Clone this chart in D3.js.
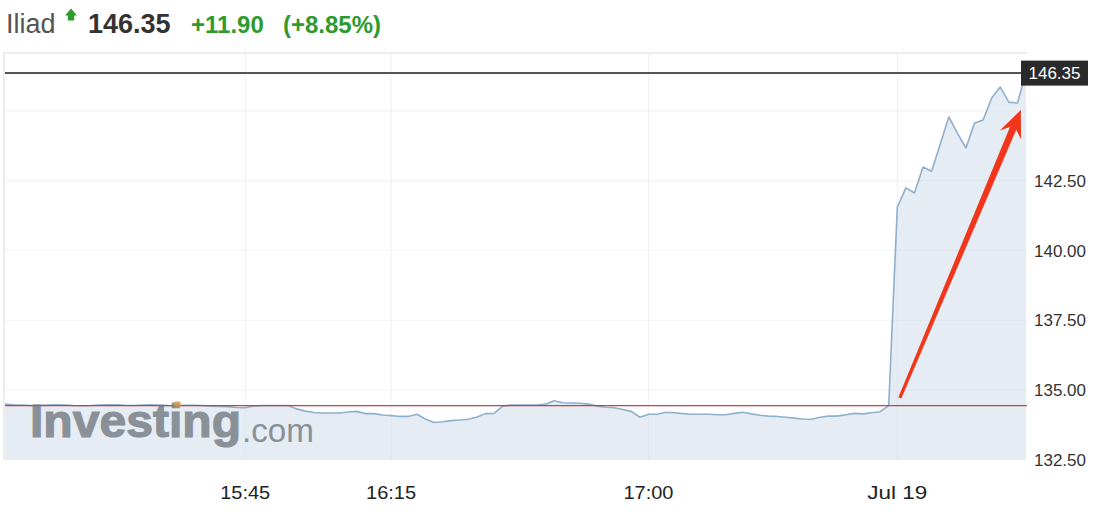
<!DOCTYPE html>
<html><head><meta charset="utf-8">
<script src="https://cdn.jsdelivr.net/npm/d3@7"></script>
<style>
body{margin:0;background:#fff}
svg{display:block}
text{font-family:"Liberation Sans",Arial,Helvetica,sans-serif}
</style>
</head><body>
<svg id="c" width="1120" height="528"></svg>
<script>
// ---- data ----
const symbol = "Iliad";
const lastPrice = 146.35;
const change = 11.90;
const changePct = 8.85;
const prices = [
  134.50,134.48,134.47,134.45,134.46,134.47,134.48,134.47,134.45,134.44,
  134.45,134.47,134.48,134.48,134.46,134.45,134.47,134.48,134.47,134.45,
  134.44,134.46,134.46,134.45,134.43,134.42,134.41,
  134.38,134.37,134.43,134.45,134.45,134.45,134.45,134.33,134.25,134.20,
  134.18,134.18,134.18,134.22,134.24,134.16,134.16,134.11,134.09,134.06,
  134.06,134.14,133.97,133.84,133.87,133.91,133.93,133.96,134.04,134.16,
  134.17,134.43,134.47,134.47,134.47,134.47,134.50,134.62,134.55,134.54,
  134.53,134.50,134.43,134.39,134.37,134.31,134.24,134.03,134.14,134.14,
  134.21,134.19,134.16,134.14,134.14,134.14,134.12,134.12,134.17,134.21,
  134.15,134.10,134.07,134.06,134.03,134.00,133.97,133.96,134.03,134.07,
  134.07,134.12,134.17,134.15,134.19,134.23,134.45,
  141.55,142.24,142.06,142.99,142.84,143.80,144.78,144.20,143.67,144.56,
  144.67,145.46,145.85,145.31,145.28,146.35
];
const xTickIndex = [28, 45, 75, 104];
const xTickLabels = ["15:45", "16:15", "17:00", "Jul 19"];
const yTickValues = [132.5, 135, 137.5, 140, 142.5];
const yGridValues = [135, 137.5, 140, 142.5, 145];
const yDomain = [132.5, 147.07];
const prevClose = +(lastPrice - change).toFixed(2);
const arrowFrom = {i: 104.3, v: 134.72};
const arrowTo = {i: 118.4, v: 145.03};

// ---- layout ----
const svg = d3.select("#c");
const L = 5, R = 1026, T = 53, B = 460;
const x = d3.scaleLinear().domain([0, prices.length - 1]).range([L, R]);
const y = d3.scaleLinear().domain(yDomain).range([B, T]);

svg.append("rect").attr("width",1120).attr("height",528).attr("fill","#fff");

// frame
svg.append("path")
  .attr("d", `M${L-1},${B}V${T}H${R+1}`)
  .attr("fill","none").attr("stroke","#e8e8e8").attr("stroke-width",1.5);

// area fill
const area = d3.area().x((d,i)=>x(i)).y0(B).y1(d=>y(d));
svg.append("path").datum(prices).attr("d", area).attr("fill","#e5ecf4");

// grid
svg.append("g").selectAll("line").data(yGridValues).join("line")
  .attr("x1",L).attr("x2",R+1).attr("y1",d=>y(d)).attr("y2",d=>y(d))
  .attr("stroke","#d9dde3").attr("stroke-opacity",0.35);
svg.append("g").selectAll("line").data(xTickIndex).join("line")
  .attr("x1",d=>x(d)).attr("x2",d=>x(d)).attr("y1",T).attr("y2",B)
  .attr("stroke","#d9dde3").attr("stroke-opacity",0.4);

// price line
const line = d3.line().x((d,i)=>x(i)).y(d=>y(d));
svg.append("path").datum(prices).attr("d", line)
  .attr("fill","none").attr("stroke","#8fb0cd").attr("stroke-width",1.6)
  .attr("stroke-linejoin","round");

// previous close line
svg.append("line").attr("x1",L).attr("x2",R+1)
  .attr("y1",y(prevClose)).attr("y2",y(prevClose))
  .attr("stroke","#cf3d3d").attr("stroke-width",1.3);

// watermark
const wm = svg.append("g").attr("opacity",0.8);
const inv = wm.append("text").attr("x",30).attr("y",437).text("Investing")
  .attr("font-family","'DejaVu Sans',sans-serif")
  .attr("font-size",46).attr("font-weight","bold").attr("fill","#737a82")
  .attr("stroke","#737a82").attr("stroke-width",1.2)
  .attr("textLength",211).attr("lengthAdjust","spacingAndGlyphs");
wm.append("text").attr("x",242).attr("y",442).text(".com")
  .attr("font-size",33).attr("fill","#737a82")
  .attr("textLength",72).attr("lengthAdjust","spacingAndGlyphs");
try {
  const ext = inv.node().getExtentOfChar(6);
  svg.append("ellipse").attr("cx", ext.x + ext.width/2 + 2).attr("cy", 404)
    .attr("rx", 4).attr("ry", 3).attr("fill", "#f0a030").attr("opacity", 0.6);
} catch(e) {}

// last price line
svg.append("line").attr("x1",L).attr("x2",1022)
  .attr("y1",y(lastPrice)).attr("y2",y(lastPrice))
  .attr("stroke","#555").attr("stroke-width",2);

// last price label
svg.append("rect").attr("x",1021).attr("y",y(lastPrice)-12.5).attr("width",67).attr("height",25)
  .attr("fill","#2a2a2a");
svg.append("text").attr("x",1054.5).attr("y",y(lastPrice)).attr("dy","0.36em")
  .attr("text-anchor","middle").attr("fill","#fff").attr("font-size",17).text(lastPrice.toFixed(2));

// y labels
svg.append("g").selectAll("text").data(yTickValues).join("text")
  .attr("x",1034).attr("y",d=>y(d)).attr("dy","0.36em")
  .attr("fill","#333").attr("font-size",17).text(d=>d.toFixed(2));

// x labels
svg.append("g").selectAll("text").data(xTickIndex).join("text")
  .attr("x",d=>x(d)).attr("y",499).attr("text-anchor","middle")
  .attr("fill","#222").attr("font-size",18)
  .attr("textLength",(d,i)=>xTickLabels[i].length*10).attr("lengthAdjust","spacingAndGlyphs")
  .text((d,i)=>xTickLabels[i]);

// red annotation arrow
(function(){
  const x0 = x(arrowFrom.i), y0 = y(arrowFrom.v), x1 = x(arrowTo.i), y1 = y(arrowTo.v);
  const dx = x1-x0, dy = y1-y0, len = Math.hypot(dx,dy);
  const ux = dx/len, uy = dy/len, px = -uy, py = ux;
  const headLen = 27, headHalf = 11.5, neckBack = 20;
  const P = (t, w) => [x0 + ux*t + px*w, y0 + uy*t + py*w];
  const pts = [
    P(0,-1.6), P(len-neckBack,-3.4), P(len-headLen,-headHalf), P(len,0),
    P(len-headLen,headHalf), P(len-neckBack,3.4), P(0,1.6)
  ];
  svg.append("path").attr("d","M"+pts.map(p=>p.join(",")).join("L")+"Z")
    .attr("fill","#f2361c");
})();

// title
svg.append("text").attr("x",6).attr("y",33).attr("font-size",27).attr("fill","#555").text(symbol);
svg.append("path").attr("d","M65,15.5L71,8.5L77,15.5H74.2V20.5H67.8V15.5Z").attr("fill","#2e9b2e");
svg.append("text").attr("x",88).attr("y",33).attr("font-size",27).attr("font-weight","bold")
  .attr("fill","#333").text(lastPrice.toFixed(2));
svg.append("text").attr("x",191).attr("y",33).attr("font-size",24).attr("font-weight","bold")
  .attr("fill","#2e9b2e").text("+" + change.toFixed(2));
svg.append("text").attr("x",283).attr("y",33).attr("font-size",24).attr("font-weight","bold")
  .attr("fill","#2e9b2e").text("(+" + changePct.toFixed(2) + "%)");
</script>
</body></html>
